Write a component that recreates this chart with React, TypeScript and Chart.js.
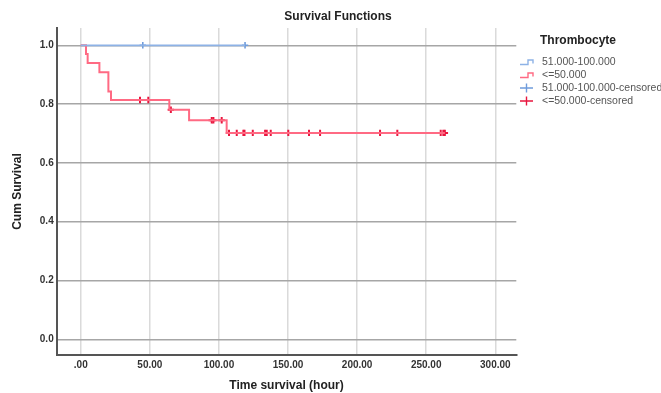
import React, { useEffect, useRef } from "react";
import { Chart, registerables } from "chart.js";

Chart.register(...registerables);

// ---- data ----
const chartTitle = "Survival Functions";
const legendTitle = "Thrombocyte";
const seriesNames = ["51.000-100.000", "<=50.000", "51.000-100.000-censored", "<=50.000-censored"];

const highTimes = [0, 118.9];
const highSurvival = [1.0, 1.0];
const highCensoredTimes = [44.9, 118.9];
const highCensoredSurvival = [1.0, 1.0];

const lowTimes = [0, 3.8, 5.0, 13.5, 20.0, 21.9, 64.1, 78.4, 105.6, 263.5];
const lowSurvival = [1.0, 0.97, 0.94, 0.908, 0.843, 0.814, 0.781, 0.745, 0.702, 0.702];
const lowCensoredTimes = [
  42.9, 48.9, 65.2, 94.8, 96.0, 102.0, 107.3, 112.9, 117.7, 118.5, 124.5, 133.4, 134.6, 137.5,
  150.2, 165.2, 173.2, 216.6, 229.1, 260.5, 262.4, 263.5,
];
const lowCensoredSurvival = [
  0.814, 0.814, 0.781, 0.745, 0.745, 0.745, 0.702, 0.702, 0.702, 0.702, 0.702, 0.702, 0.702, 0.702,
  0.702, 0.702, 0.702, 0.702, 0.702, 0.702, 0.702, 0.702,
];

const xTickValues = [0, 50, 100, 150, 200, 250, 300];
const xTickLabels = [".00", "50.00", "100.00", "150.00", "200.00", "250.00", "300.00"];
const yTickValues = [0, 0.2, 0.4, 0.6, 0.8, 1.0];
const yTickLabels = ["0.0", "0.2", "0.4", "0.6", "0.8", "1.0"];

const xAxisTitle = "Time survival (hour)";
const yAxisTitle = "Cum Survival";

// ---- styles ----
const FONT = "'Liberation Sans', Arial, sans-serif";
const BLUE_LINE = "#8db2e6";
const BLUE_MARK = "#6f9cdc";
const RED_LINE = "#ff6a83";
const RED_MARK = "#e8163e";

const zip = (xs: number[], ys: number[]) => xs.map((x, i) => ({ x, y: ys[i] }));

const overlayPlugin = {
  id: "overlay",
  afterDraw(chart: any) {
    const ctx = chart.ctx as CanvasRenderingContext2D;
    ctx.save();
    // chart title
    ctx.fillStyle = "#222";
    ctx.font = `bold 12px ${FONT}`;
    ctx.textAlign = "center";
    ctx.textBaseline = "middle";
    ctx.fillText(chartTitle, 338, 17);

    // legend title
    ctx.textAlign = "left";
    ctx.fillText(legendTitle, 540, 41);

    const rows = [62, 75, 88, 101];
    const iconX = 520;
    const colors = [BLUE_LINE, RED_LINE, BLUE_MARK, RED_MARK];
    ctx.lineWidth = 1.4;
    rows.forEach((y, i) => {
      ctx.strokeStyle = colors[i];
      ctx.beginPath();
      if (i < 2) {
        ctx.moveTo(iconX, y + 2.5);
        ctx.lineTo(iconX + 8, y + 2.5);
        ctx.lineTo(iconX + 8, y - 2);
        ctx.lineTo(iconX + 13, y - 2);
        ctx.lineTo(iconX + 13, y + 1.5);
      } else {
        ctx.moveTo(iconX, y);
        ctx.lineTo(iconX + 13, y);
        ctx.moveTo(iconX + 6.5, y - 4.5);
        ctx.lineTo(iconX + 6.5, y + 4.5);
      }
      ctx.stroke();
      ctx.fillStyle = "#555";
      ctx.font = `10.5px ${FONT}`;
      ctx.textBaseline = "middle";
      ctx.fillText(seriesNames[i], 542, y + 0.5);
    });
    ctx.restore();
  },
};

export default function App() {
  const ref = useRef<HTMLCanvasElement | null>(null);

  useEffect(() => {
    if (!ref.current) return;
    const chart = new Chart(ref.current, {
      type: "line",
      data: {
        datasets: [
          {
            label: seriesNames[0],
            data: zip(highTimes, highSurvival),
            borderColor: BLUE_LINE,
            borderWidth: 1.7,
            stepped: "before",
            pointRadius: 0,
            fill: false,
          },
          {
            label: seriesNames[1],
            data: zip(lowTimes, lowSurvival),
            borderColor: RED_LINE,
            borderWidth: 2,
            stepped: "before",
            pointRadius: 0,
            fill: false,
          },
          {
            type: "scatter",
            label: seriesNames[2],
            data: zip(highCensoredTimes, highCensoredSurvival),
            showLine: false,
            pointStyle: "cross",
            pointRadius: 3.2,
            borderWidth: 1.6,
            borderColor: BLUE_MARK,
            backgroundColor: BLUE_MARK,
          },
          {
            type: "scatter",
            label: seriesNames[3],
            data: zip(lowCensoredTimes, lowCensoredSurvival),
            showLine: false,
            pointStyle: "cross",
            pointRadius: 3.2,
            borderWidth: 2,
            borderColor: RED_MARK,
            backgroundColor: RED_MARK,
          },
        ] as any,
      },
      options: {
        animation: false,
        responsive: false,
        layout: { padding: { left: 0, top: 28, right: 144.7, bottom: 0 } },
        plugins: {
          legend: { display: false },
          title: { display: false },
          tooltip: { enabled: false },
        },
        scales: {
          x: {
            type: "linear",
            min: -17.4,
            max: 315.2,
            afterBuildTicks: (s: any) => {
              s.ticks = xTickValues.map((v) => ({ value: v }));
            },
            afterFit: (s: any) => {
              s.height = 38;
            },
            ticks: {
              padding: 4,
              color: "#333",
              font: { family: FONT, size: 10, weight: "bold" },
              callback: (v: any) => {
                const i = xTickValues.indexOf(Number(v));
                return i >= 0 ? xTickLabels[i] : "";
              },
              maxRotation: 0,
              autoSkip: false,
            },
            grid: { color: "#dadada", lineWidth: 1.5, drawTicks: false },
            border: { color: "#555", width: 2 },
            title: {
              display: true,
              text: xAxisTitle,
              color: "#222",
              font: { family: FONT, size: 12, weight: "bold" },
              padding: { top: 0, bottom: 0 },
            },
          },
          y: {
            type: "linear",
            min: -0.0534,
            max: 1.0588,
            afterBuildTicks: (s: any) => {
              s.ticks = yTickValues.map((v) => ({ value: v }));
            },
            afterFit: (s: any) => {
              s.width = 56.7;
            },
            ticks: {
              padding: 3,
              color: "#333",
              font: { family: FONT, size: 10, weight: "bold" },
              callback: (v: any) => {
                const i = yTickValues.findIndex((t) => Math.abs(t - Number(v)) < 1e-6);
                return i >= 0 ? yTickLabels[i] : "";
              },
              autoSkip: false,
            },
            grid: { color: "#a6a6a6", lineWidth: 1.5, drawTicks: false },
            border: { color: "#555", width: 2 },
            title: {
              display: true,
              text: yAxisTitle,
              color: "#222",
              font: { family: FONT, size: 12, weight: "bold" },
              padding: { top: 10, bottom: 0 },
            },
          },
        },
      } as any,
      plugins: [overlayPlugin],
    });
    return () => chart.destroy();
  }, []);

  return (
    <div style={{ position: "absolute", left: 0, top: 0, width: 661, height: 393, background: "#fff" }}>
      <canvas ref={ref} width={661} height={393} style={{ display: "block" }} />
    </div>
  );
}
